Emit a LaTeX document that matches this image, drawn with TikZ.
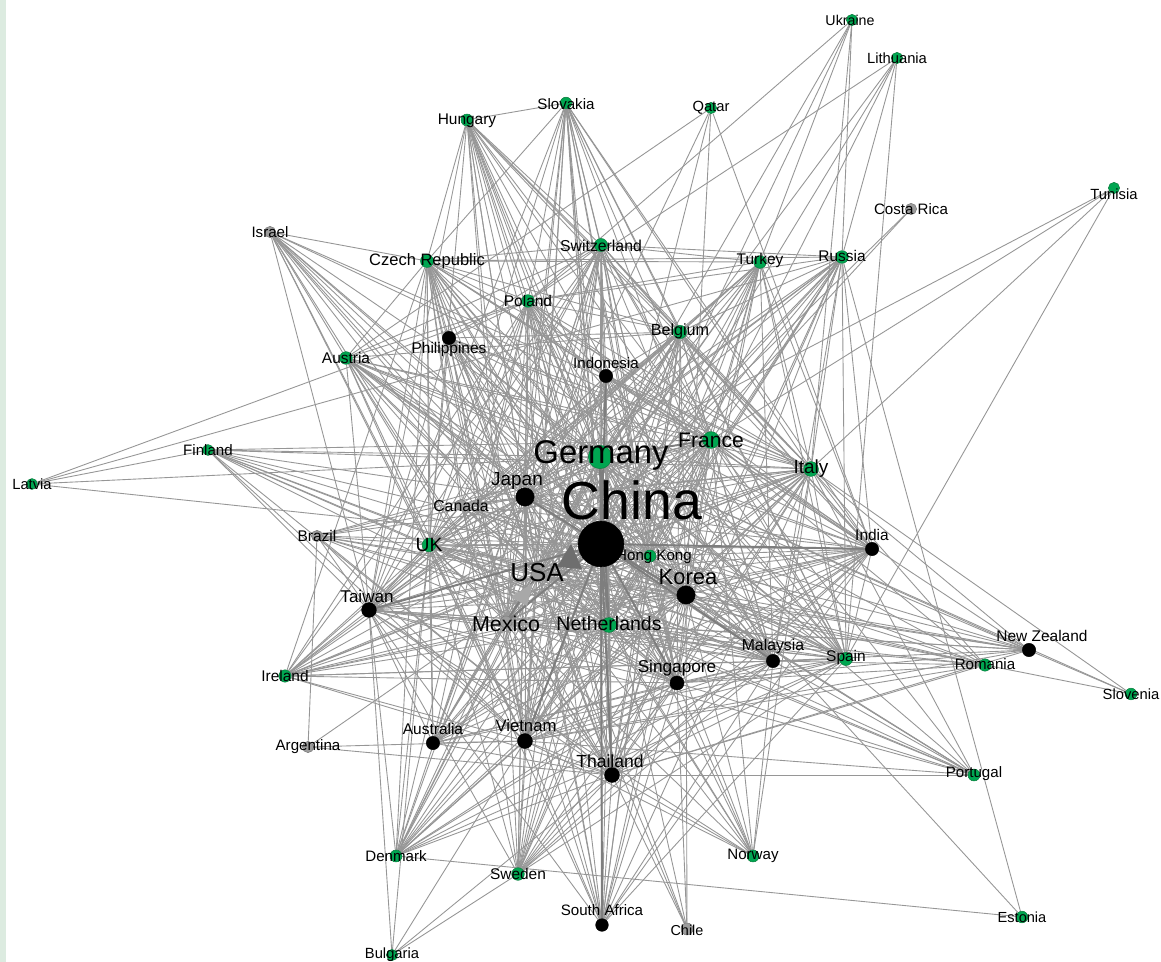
\documentclass[tikz,border=0pt]{standalone}
\usepackage{fontspec}
\setmainfont{Liberation Sans}
\definecolor{ngreen}{HTML}{00A651}
\definecolor{ngreenD}{HTML}{0B7D3E}
\definecolor{ngray}{HTML}{9C9C9C}
\definecolor{ngrayD}{HTML}{7A7A7A}
\definecolor{edgec}{HTML}{969696}
\definecolor{edgeD}{HTML}{7E7E7E}
\definecolor{stripc}{HTML}{DCEBE0}
\definecolor{usatri}{HTML}{6E6E6E}
\definecolor{mextri}{HTML}{A8A8A8}
\pgfdeclarelayer{bg}
\pgfdeclarelayer{edges}
\pgfdeclarelayer{labels}
\pgfsetlayers{bg,edges,main,labels}
\tikzset{
  gn/.style={circle, fill=ngreen, draw=ngreenD, line width=0.3pt, inner sep=0pt, minimum size=#1 pt},
  bn/.style={circle, fill=black, draw=black, line width=0.3pt, inner sep=0pt, minimum size=#1 pt},
  yn/.style={circle, fill=ngray, draw=ngrayD, line width=0.3pt, inner sep=0pt, minimum size=#1 pt},
  lab/.style={font=\fontsize{#1}{#1}\selectfont, inner sep=0pt, text=black},
  edge/.style={draw=edgec, line width=0.5pt},
  tedge/.style={draw=edgeD, line width=1.1pt},
}
\def\Hlist{china,germany,usa,japan,korea,france,italy,uk,nl,taiwan,singapore,vietnam,thailand,malaysia,india,mexico,hk,spain,belgium,swiss,poland,czech}
\def\Mlist{austria,sweden,denmark,ireland,australia,canada,turkey,russia,indonesia,philippines,hungary,slovakia,safrica}
\def\Llist{finland,israel,norway,brazil,romania,nz,portugal}
\def\Clist{china,germany,usa,japan,korea,france,italy,uk,nl,taiwan,vietnam,singapore,thailand,malaysia}
\begin{document}
\begin{tikzpicture}[x=0.02cm,y=-0.02cm]
\useasboundingbox (0,0) rectangle (1161,962);
\begin{pgfonlayer}{bg}
\fill[white] (0,0) rectangle (1161,962);
\fill[stripc] (0,0) rectangle (6,962);
\end{pgfonlayer}
% green nodes
\foreach \n/\x/\y/\s in {ukraine/852/20/6.4, lithuania/897/58/6.4, slovakia/566/103/6.6, qatar/711/108/6.4,
  hungary/467/120/6.8, tunisia/1114/188/6.4, czech/427/261/7.4, swiss/601/245/7.4, turkey/760/262/7.2,
  russia/842/257/7.2, poland/528/301/7.2, belgium/680/332/7.6, austria/346/358/7.2, germany/600/457/13.3,
  france/711/440/9.5, finland/208/450/6.2, italy/811/469/8.4, latvia/32/484/6.2, uk/429/545/7.8,
  hk/650/556/6.8, nl/609/625/8.5, spain/846/659/7.4, romania/985/665/7, ireland/285/676/7,
  slovenia/1131/694/6.6, portugal/974/775/6.8, denmark/396/856/6.8, norway/753/856/6.8,
  sweden/518/874/7.2, estonia/1022/917/6.6, bulgaria/392/955/6.4}
  \node[gn=\s] (\n) at (\x,\y) {};
% black nodes
\foreach \n/\x/\y/\s in {philippines/449/338/7.6, indonesia/606/376/7.6, japan/525/497/10.4, china/601/544/26,
  india/872/549/7.6, korea/686/595/10.4, taiwan/369/610/8.4, nz/1029/650/7.6, malaysia/773/661/7.6,
  singapore/677/683/8, australia/433/743/7.6, vietnam/525/741/8.5, thailand/612/775/8.5, safrica/602/925/7.2}
  \node[bn=\s] (\n) at (\x,\y) {};
% gray nodes
\foreach \n/\x/\y/\s in {costarica/911/209/6.4, israel/270/232/6.4, canada/461/505/6.4, brazil/317/536/6.4,
  usa/537/575/6.8, mexico/506/622/6.8, argentina/308/747/6.4, chile/687/929/6.8}
  \node[yn=\s] (\n) at (\x,\y) {};
% triangles
\fill[usatri] (557,567) -- (571,544) -- (582,569) -- cycle;
\fill[mextri] (533,583) -- (511,597) -- (527,606) -- cycle;
\begin{pgfonlayer}{edges}
  \foreach \a [count=\i] in \Hlist {\foreach \b [count=\j] in \Hlist {\ifnum\j>\i\relax \draw[edge] (\a) -- (\b);\fi}}
  \foreach \a in \Mlist {\foreach \b in \Hlist {\draw[edge] (\a) -- (\b);}}
  \foreach \a in \Llist {\foreach \b in \Clist {\draw[edge] (\a) -- (\b);}}
  \foreach \a/\b in {latvia/finland, latvia/russia, latvia/germany, latvia/china, latvia/poland,
    ukraine/russia, ukraine/turkey, ukraine/germany, ukraine/china, ukraine/poland, ukraine/italy,
    lithuania/russia, lithuania/germany, lithuania/poland, lithuania/china, lithuania/nl, lithuania/spain,
    tunisia/italy, tunisia/france, tunisia/germany, tunisia/spain,
    costarica/usa, costarica/china,
    qatar/china, qatar/japan, qatar/korea, qatar/india, qatar/austria,
    estonia/russia, estonia/germany, estonia/denmark,
    slovenia/germany, slovenia/italy, slovenia/austria, slovenia/romania,
    bulgaria/sweden, bulgaria/vietnam, bulgaria/thailand, bulgaria/taiwan, bulgaria/uk,
    argentina/brazil, argentina/vietnam, argentina/china, argentina/thailand,
    chile/china, chile/korea, chile/japan, chile/usa, chile/thailand, chile/singapore,
    hungary/slovakia, israel/czech, israel/austria}
    \draw[edge] (\a) -- (\b);
  \foreach \b in {germany, usa, japan, korea, nl, taiwan, vietnam, thailand, singapore, hk, malaysia, india, mexico, indonesia, safrica}
    \draw[tedge] (china) -- (\b);
  \draw[tedge] (germany) -- (nl);
  \draw[tedge] (germany) -- (france);
  \draw[tedge] (usa) -- (mexico);
\end{pgfonlayer}
\begin{pgfonlayer}{labels}
\foreach \n/\txt/\x/\y/\f in {ukraine/Ukraine/850/20/8.1, lithuania/Lithuania/897/58/8.4, slovakia/Slovakia/566/104/8.6,
  qatar/Qatar/711/108/8.4, hungary/Hungary/467/121/8.8, tunisia/Tunisia/1114/194/8.4, costarica/Costa Rica/911/209/8.6,
  israel/Israel/270/232/8.6, czech/Czech Republic/427/261/9.4, swiss/Switzerland/601/246/9,
  turkey/Turkey/760/261/8.8, russia/Russia/842/256/8.8, poland/Poland/528/301/8.8, belgium/Belgium/680/331/9.2,
  philippines/Philippines/449/350/8.8, austria/Austria/346/358/8.8, indonesia/Indonesia/606/363/8.6,
  germany/Germany/601/455/18.7, france/France/711/440/12, finland/Finland/208/450/8.6, italy/Italy/811/469/10.8,
  latvia/Latvia/32/484/8.4, japan/Japan/517/481/10.8, china/China/632/500/30.5, canada/Canada/461/506/9,
  brazil/Brazil/317/536/8.8, uk/UK/429/545/11, hk/Hong Kong/654/557/8.6, india/India/872/535/8.8,
  usa/USA/537/573/14.8, korea/Korea/688/577/12.5, taiwan/Taiwan/367/596/9.7, mexico/Mexico/506/624/12.2,
  nl/Netherlands/609/624/11.1, nz/New Zealand/1042/636/8.8, malaysia/Malaysia/773/646/9, spain/Spain/846/658/8.8,
  romania/Romania/985/664/8.6, singapore/Singapore/677/668/9.8, ireland/Ireland/285/676/8.8,
  slovenia/Slovenia/1131/694/8.4, australia/Australia/433/729/8.8, vietnam/Vietnam/526/726/9.5,
  argentina/Argentina/308/747/8.6, thailand/Thailand/610/761/10, portugal/Portugal/974/774/8.6,
  denmark/Denmark/396/856/8.6, norway/Norway/753/856/8.6, sweden/Sweden/518/874/8.8,
  safrica/South Africa/602/910/8.6, chile/Chile/687/930/8.2, estonia/Estonia/1022/917/8.3, bulgaria/Bulgaria/392/955/8.4}
  \node[lab=\f] (\n-l) at (\x,\y) {\txt};
\end{pgfonlayer}
\end{tikzpicture}
\end{document}
